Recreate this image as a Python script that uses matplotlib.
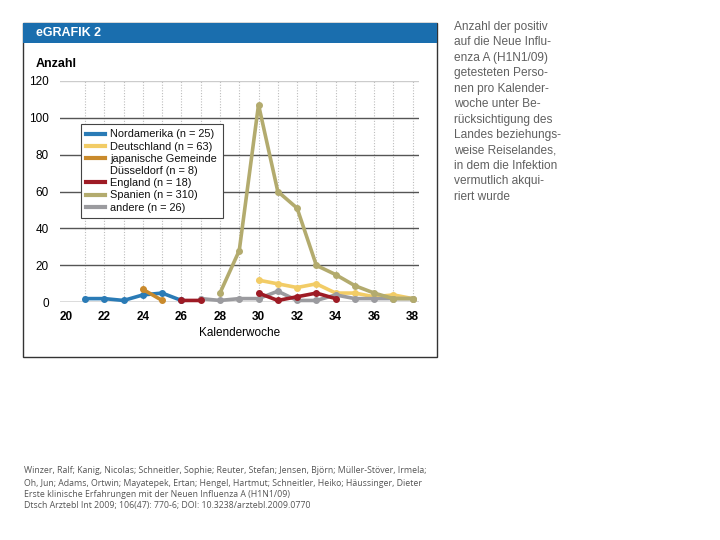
import matplotlib
matplotlib.use("Agg")
import matplotlib.pyplot as plt
from matplotlib.patches import Rectangle
from matplotlib.lines import Line2D

plt.rcParams['font.family'] = ['Liberation Sans', 'DejaVu Sans']

# data
wk_na = [21, 22, 23, 24, 25, 26]
nordamerika = [2, 2, 1, 4, 5, 1]
wk_de = [30, 31, 32, 33, 34, 35, 36, 37, 38]
deutschland = [12, 10, 8, 10, 5, 5, 3, 4, 2]
wk_jp = [24, 25]
japan = [7, 1]
wk_en = [26, 27, None, 30, 31, 32, 33, 34]
england = [1, 1, None, 5, 1, 3, 5, 2]
wk_es = [28, 29, 30, 31, 32, 33, 34, 35, 36, 37, 38]
spanien = [5, 28, 107, 60, 51, 20, 15, 9, 5, 2, 2]
wk_an = [27, 28, 29, 30, 31, 32, 33, 34, 35, 36, 37, 38]
andere = [2, 1, 2, 2, 6, 1, 1, 4, 2, 2, 2, 2]

labels = ["Nordamerika (n = 25)", "Deutschland (n = 63)",
          "japanische Gemeinde", "England (n = 18)",
          "Spanien (n = 310)", "andere (n = 26)"]
colors = ["#2a7bb6", "#f2cc66", "#c98a2c", "#9e1b25", "#b3ab6e", "#9b9b9f"]

xticks = list(range(20, 39, 2))
yticks = [0, 20, 40, 60, 80, 100, 120]

fig = plt.figure(figsize=(7.2, 5.4), dpi=100)

W, H = 720, 540
def fx(px):
    return px / W
def fy(py):
    return 1 - py / H

# outer panel and header bar
fig.patches.append(Rectangle((fx(23), fy(357)), fx(437) - fx(23), fy(23) - fy(357),
                             transform=fig.transFigure, fill=False, ec="#333333", lw=1.0))
fig.patches.append(Rectangle((fx(23), fy(43)), fx(437) - fx(23), fy(23) - fy(43),
                             transform=fig.transFigure, fc="#1a6eae", ec="none"))
fig.text(fx(36), fy(33), "eGRAFIK 2", color="white", fontsize=9, fontweight="bold",
         va="center", ha="left")
fig.text(fx(36), fy(64), "Anzahl", color="black", fontsize=9, fontweight="bold",
         va="center", ha="left")

ax = fig.add_axes([fx(60), fy(302.3), fx(418.5) - fx(60), fy(80.7) - fy(302.3)])
ax.set_xlim(19.7, 38.3)
ax.set_ylim(0, 120)
for s in ax.spines.values():
    s.set_visible(False)

for w in range(21, 39):
    ax.axvline(w, color="#bdbdbd", lw=0.8, ls=(0, (1, 1.5)), zorder=0)
for v in yticks[1:-1]:
    ax.axhline(v, color="#555555", lw=1.0, zorder=0.5)
ax.axhline(120, color="#cccccc", lw=1.0, zorder=0.5)
ax.axhline(0, color="#d8d8d8", lw=2.0, zorder=0.5)

series = [(wk_na, nordamerika, 4), (wk_de, deutschland, 2), (wk_jp, japan, 5),
          (wk_en, england, 6), (wk_es, spanien, 7), (wk_an, andere, 3)]
handles = []
for (xs, ys, z), lab, c in zip(series, labels, colors):
    xs = [float('nan') if v is None else v for v in xs]
    ys = [float('nan') if v is None else v for v in ys]
    h, = ax.plot(xs, ys, color=c, lw=2.6, marker="o", ms=4, zorder=z,
                 label=lab, clip_on=False)
    handles.append(h)

ax.set_xticks(xticks)
ax.set_yticks(yticks)
ax.tick_params(length=0, labelsize=8.5, pad=8)
ax.tick_params(axis="x", pad=6)
for t in ax.get_xticklabels():
    t.set_fontweight("bold")
ax.set_xlabel("Kalenderwoche", fontsize=8.5, labelpad=3)

# legend: second line of the japanese entry gets an empty handle
leg_handles = []
leg_labels = []
for h, lab, c in zip(handles, labels, colors):
    leg_handles.append(Line2D([], [], color=c, lw=3))
    leg_labels.append(lab)
    if lab.startswith("japanische"):
        leg_handles.append(Line2D([], [], color="none", lw=0))
        leg_labels.append("Düsseldorf (n = 8)")

leg = ax.legend(leg_handles, leg_labels, loc="upper left", bbox_to_anchor=(0.058, 0.805),
                fontsize=7.9, frameon=True, fancybox=False, handlelength=1.7,
                borderpad=0.5, labelspacing=0.2, handletextpad=0.5, borderaxespad=0)
leg.get_frame().set_edgecolor("#444444")
leg.get_frame().set_linewidth(0.8)
leg.get_frame().set_alpha(1)
leg.set_zorder(10)
for t in leg.get_texts():
    t.set_color("#111111")

side = ("Anzahl der positiv\nauf die Neue Influ-\nenza A (H1N1/09)\n"
        "getesteten Perso-\nnen pro Kalender-\nwoche unter Be-\n"
        "rücksichtigung des\nLandes beziehungs-\nweise Reiselandes,\n"
        "in dem die Infektion\nvermutlich akqui-\nriert wurde")
fig.text(fx(454), fy(21), side, color="#606060", fontsize=8.6,
         va="top", ha="left", linespacing=1.38)

cite_font = ["Open Sans", "DejaVu Sans"]
cite = ("Winzer, Ralf; Kanig, Nicolas; Schneitler, Sophie; Reuter, Stefan; Jensen, Björn; Müller-Stöver, Irmela;\n"
        "Oh, Jun; Adams, Ortwin; Mayatepek, Ertan; Hengel, Hartmut; Schneitler, Heiko; Häussinger, Dieter")
fig.text(fx(24), fy(466), cite, color="#555555", fontsize=6.3, va="top", ha="left",
         linespacing=1.55, family=cite_font)
fig.text(fx(24), fy(490), "Erste klinische Erfahrungen mit der Neuen Influenza A (H1N1/09)",
         color="#555555", fontsize=6.3, va="top", ha="left", family=cite_font)
fig.text(fx(24), fy(501), "Dtsch Arztebl Int 2009; 106(47): 770-6; DOI: 10.3238/arztebl.2009.0770",
         color="#555555", fontsize=6.3, va="top", ha="left", family=cite_font)

fig.savefig("out.png", dpi=100)
